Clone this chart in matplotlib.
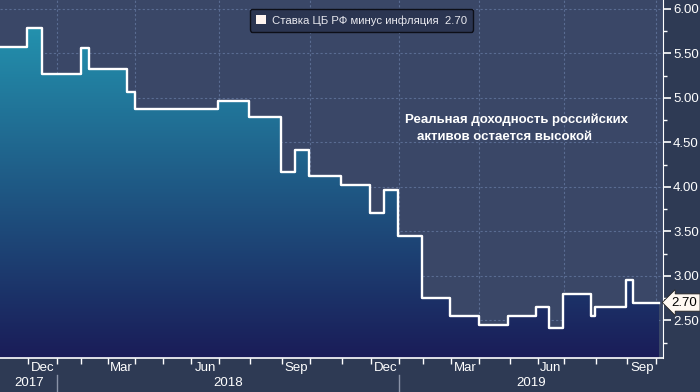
import numpy as np
import matplotlib.pyplot as plt
import matplotlib.transforms as mtransforms
from matplotlib.colors import LinearSegmentedColormap
from matplotlib.patches import Patch

# CBR key rate minus inflation: date of each change and the level from then on
dates = ["2017-11-02", "2017-11-30", "2017-12-15", "2018-02-01", "2018-02-09",
         "2018-03-23", "2018-04-02", "2018-06-29", "2018-07-31", "2018-08-31",
         "2018-09-14", "2018-09-28", "2018-10-31", "2018-11-30", "2018-12-14",
         "2018-12-28", "2019-01-31", "2019-02-28", "2019-04-01", "2019-04-30",
         "2019-05-31", "2019-06-14", "2019-06-28", "2019-07-26", "2019-07-31",
         "2019-08-30", "2019-09-06", "2019-10-03"]
values = [5.57, 5.78, 5.27, 5.56, 5.32,
          5.07, 4.87, 4.97, 4.78, 4.17,
          4.41, 4.12, 4.02, 3.71, 3.97,
          3.45, 2.75, 2.55, 2.45, 2.55,
          2.65, 2.41, 2.80, 2.55, 2.65,
          2.95, 2.70, 2.70]
last_value = 2.70
legend_label = "Ставка ЦБ РФ минус инфляция  2.70"
note_lines = ["Реальная доходность российских", "активов остается высокой"]
month_names = {"2017-12": "Dec", "2018-03": "Mar", "2018-06": "Jun", "2018-09": "Sep",
               "2018-12": "Dec", "2019-03": "Mar", "2019-06": "Jun", "2019-09": "Sep"}
years = ["2017", "2018", "2019"]

# x axis runs on Moscow trading days, like the terminal chart
holidays = ["2017-11-06",
            "2018-01-01", "2018-01-02", "2018-01-03", "2018-01-04", "2018-01-05",
            "2018-01-08", "2018-02-23", "2018-03-08", "2018-03-09", "2018-04-30",
            "2018-05-01", "2018-05-02", "2018-05-09", "2018-06-12", "2018-11-05",
            "2018-12-31",
            "2019-01-01", "2019-01-02", "2019-01-03", "2019-01-04", "2019-01-07",
            "2019-01-08", "2019-03-08", "2019-05-01", "2019-05-02", "2019-05-09",
            "2019-06-12"]
BASE = np.datetime64("2017-12-01")


def tday(d):
    return np.busday_count(BASE, np.asarray(d, dtype="datetime64[D]"), holidays=holidays)


BG = "#2e3a54"
PLOT_BG = "#3a4767"
GRID = "#5a6c92"
plt.rcParams["font.family"] = ["Liberation Sans", "DejaVu Sans"]

x = tday(dates)
y = np.array(values)
ylo, yhi = 2.08, 6.10
xlo, xhi = tday("2017-11-02"), tday("2019-10-08")

fig = plt.figure(figsize=(7.0, 3.92), dpi=100, facecolor=BG)
ax = fig.add_axes([0.0, 0.0875, 0.9476, 0.9125])
ax.set_facecolor(PLOT_BG)
ax.set_xlim(xlo, xhi)
ax.set_ylim(ylo, yhi)

# gradient area under the step line
cmap = LinearSegmentedColormap.from_list("area", ["#1a1c58", "#249bb5"])
grad = np.linspace(0, 1, 256).reshape(-1, 1)
im = ax.imshow(grad, extent=[xlo, xhi, ylo, yhi], origin="lower", cmap=cmap,
               aspect="auto", zorder=1)
poly = ax.fill_between(x, y, ylo, step="post", color="none", lw=0, zorder=1)
im.set_clip_path(poly.get_paths()[0], transform=ax.transData)
ax.plot(x, y, drawstyle="steps-post", color="white", lw=1.7, zorder=3)

# grid: horizontal at 0.5 steps, vertical at quarter starts
ax.set_yticks(np.arange(2.5, 6.01, 0.5))
ax.set_yticks(np.arange(2.25, 6.0, 0.5), minor=True)
ax.grid(True, axis="y", which="major", color=GRID, ls=(0, (2, 2)), lw=0.8, zorder=0)
for q in ["2018-01-01", "2018-04-01", "2018-07-01", "2018-10-01",
          "2019-01-01", "2019-04-01", "2019-07-01", "2019-10-01"]:
    ax.axvline(tday(q), color=GRID, ls=(0, (2, 2)), lw=0.8, zorder=0)
ax.set_axisbelow(True)

ax.yaxis.tick_right()
ax.set_yticklabels([f"{v:.2f}" for v in np.arange(2.5, 6.01, 0.5)])
ax.tick_params(axis="y", which="major", colors="white", labelsize=9.5,
               length=6, width=1.2, pad=1)
ax.tick_params(axis="y", which="minor", colors="white", length=3, width=1)

# months: ticks at month starts, labels mid-month
months = np.arange("2017-12", "2019-11", dtype="datetime64[M]")
starts = tday(months.astype("datetime64[D]"))
ax.set_xticks(starts)
ax.set_xticklabels([])
mids, names = [], []
for i, m in enumerate(months[:-1]):
    key = str(m)
    if key in month_names:
        mids.append((starts[i] + starts[i + 1]) / 2)
        names.append(month_names[key])
ax.set_xticks(mids, minor=True)
ax.set_xticklabels(names, minor=True)
ax.tick_params(axis="x", which="major", colors="white", length=4, width=1)
ax.tick_params(axis="x", which="minor", colors="white", length=0, labelsize=9.5, pad=3)

for s in ["top", "left"]:
    ax.spines[s].set_visible(False)
ax.spines["right"].set_color("white")
ax.spines["bottom"].set_color("white")
ax.spines["bottom"].set_linewidth(1.2)

# year row with separators
trans = mtransforms.blended_transform_factory(ax.transData, ax.transAxes)
y_jan18, y_jan19 = tday("2018-01-01"), tday("2019-01-01")
for xc, label in zip([(xlo + y_jan18) / 2, (y_jan18 + y_jan19) / 2, (y_jan19 + xhi) / 2], years):
    ax.text(xc, -0.071, label, transform=trans, ha="center", va="center",
            color="white", fontsize=9.5)
for xs in [y_jan18, y_jan19]:
    ax.plot([xs, xs], [-0.048, -0.1], transform=trans, color="#8a93a8",
            lw=1, clip_on=False)

# legend
handle = Patch(facecolor="#fff5f0", edgecolor="none")
leg = ax.legend([handle], [legend_label], loc="upper center",
                bbox_to_anchor=(0.545, 0.976), frameon=True, fancybox=True,
                facecolor="#2b3551", edgecolor="#0d0f18", framealpha=1,
                fontsize=8.2, handlelength=0.9, handleheight=0.9,
                handletextpad=0.5, borderpad=0.55, borderaxespad=0)
for t in leg.get_texts():
    t.set_color("#e8e8ee")

# note
ax.text(0.6106, 0.6645, note_lines[0], transform=ax.transAxes, ha="left",
        va="center", color="white", fontsize=9.5, fontweight="bold")
ax.text(0.6282, 0.617, note_lines[1], transform=ax.transAxes, ha="left",
        va="center", color="white", fontsize=9.5, fontweight="bold")

# last value tag
ax.annotate(f"{last_value:.2f}", xy=(1, last_value), xycoords=("axes fraction", "data"),
            xytext=(6, 0), textcoords="offset points", ha="left", va="center",
            fontsize=9.5, color="black",
            bbox=dict(boxstyle="larrow,pad=0.2", fc="#fff8f2", ec="#222222", lw=0.6))

fig.savefig("out.png", dpi=100, facecolor=BG)
